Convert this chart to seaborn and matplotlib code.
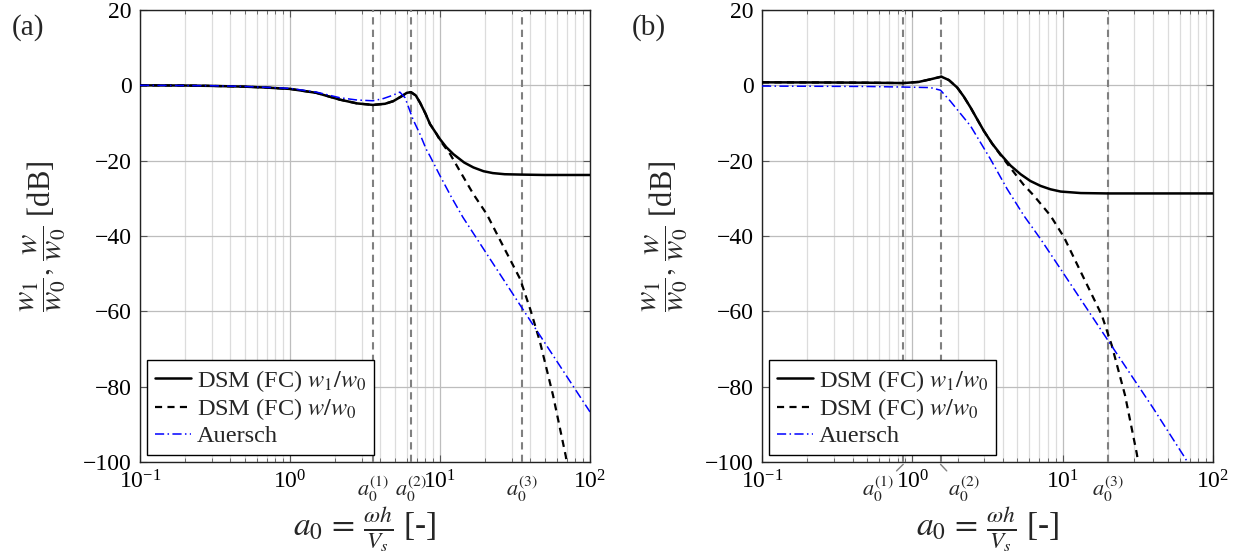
import numpy as np
import pandas as pd
import matplotlib
matplotlib.use("Agg")
import matplotlib.pyplot as plt
import matplotlib.transforms as mtransforms
from matplotlib.ticker import LogLocator, LogFormatterMathtext, NullFormatter
import seaborn as sns

# ---------------- data ----------------
# panel (a)
a_L_w1 = [0.1, 0.2, 0.3, 0.5, 0.7, 1.0, 1.5, 2.15, 2.8, 3.57, 4.3, 4.88, 5.6, 6.0, 6.4, 6.9, 7.36, 8.0, 8.58,
          10, 11.0, 12.3, 14.5, 16.7, 19.5, 22.5, 27, 35, 50, 100]
db_L_w1 = [0, -0.05, -0.15, -0.35, -0.6, -0.95, -2.0, -3.8, -4.8, -5.2, -4.9, -4.2, -2.8, -2.0, -1.8, -2.7, -4.6, -7.5, -10.3,
           -14.3, -16.4, -18.3, -20.5, -21.8, -22.8, -23.3, -23.6, -23.7, -23.8, -23.8]

a_L_w = [0.1, 0.2, 0.3, 0.5, 0.7, 1.0, 1.5, 2.15, 2.8, 3.57, 4.3, 4.88, 5.6, 6.0, 6.4, 6.9, 7.36, 8.0, 8.58,
         9.3, 10.0, 11.7, 13.5, 16.7, 20.5, 25, 30, 34.2, 40, 46.4, 51, 56.7, 63, 69, 72]
db_L_w = [0, -0.05, -0.15, -0.35, -0.6, -0.95, -2.0, -3.8, -4.8, -5.2, -4.9, -4.2, -2.8, -2.0, -1.8, -2.7, -4.6, -7.5, -10.3,
          -12.3, -14.6, -18.3, -22.6, -28.9, -34.2, -40.9, -47.0, -51.4, -59.5, -68.1, -74.8, -82.3, -91.0, -98.5, -104]

a_L_au = [0.1, 0.3, 0.5, 1.0, 1.5, 2.15, 2.8, 3.57, 4.2, 4.64, 5.0, 5.4, 5.85, 6.6, 7.36, 8.1, 8.58,
          10, 11.96, 14.2, 20, 35.2, 60, 100]
db_L_au = [0, -0.1, -0.3, -0.8, -1.8, -3.3, -3.9, -4.1, -3.5, -2.9, -2.4, -1.8, -3.3, -9.0, -13.0, -17.0, -18.8,
           -24.0, -29.8, -35.0, -44.1, -59.1, -73.2, -86.7]

# panel (b)
a_R_w1 = [0.1, 0.3, 0.5, 0.87, 1.1, 1.32, 1.56, 1.75, 1.99, 2.2, 2.44, 2.7, 2.99, 3.4, 3.86, 4.5, 5.25, 6.1, 7.13,
          8.3, 9.7, 13.2, 20, 100]
db_R_w1 = [0.8, 0.75, 0.7, 0.6, 0.9, 1.6, 2.3, 1.4, -0.6, -3.0, -5.9, -9.0, -12.1, -15.5, -18.3, -21.3, -23.6, -25.4, -26.7,
           -27.6, -28.2, -28.6, -28.7, -28.7]

a_R_w = [0.1, 0.3, 0.5, 0.87, 1.1, 1.32, 1.56, 1.75, 1.99, 2.2, 2.44, 2.7, 2.99, 3.4, 3.86, 4.74, 5.5, 6.44, 8.3, 10.2,
         13, 18.2, 21.2, 26, 31.1, 33]
db_R_w = [0.8, 0.75, 0.7, 0.6, 0.9, 1.6, 2.3, 1.4, -0.6, -3.0, -5.9, -9.0, -12.1, -15.5, -18.5, -23.1, -26.4, -29.3, -34.6, -40.3,
          -49.0, -61.0, -69.0, -82.3, -97.7, -104]

a_R_au = [0.1, 0.5, 1.0, 1.32, 1.54, 1.79, 2.09, 2.44, 3.31, 4.27, 5.52, 7.13, 10, 20, 40, 64.4, 70]
db_R_au = [-0.2, -0.3, -0.5, -0.6, -1.3, -4.2, -7.5, -10.8, -19.6, -27.5, -34.6, -40.8, -49.6, -67.7, -85.7, -98.6, -101]

# characteristic frequencies (vertical markers)
a0_L = [3.57, 6.4, 35.2]
a0_R = [0.87, 1.54, 20.0]
a0_names = [r"$a_0^{(1)}$", r"$a_0^{(2)}$", r"$a_0^{(3)}$"]

legend_labels = [r"DSM (FC) $w_1/w_0$", r"DSM (FC) $w/w_0$", "Auersch"]
panel_labels = ["(a)", "(b)"]
xlabel = r"$a_0\,=\,\frac{\omega h}{V_s}$ [-]"
ylabel = r"$\dfrac{w_1}{w_0},\,\dfrac{w}{w_0}$ [dB]"
yticks = [-100, -80, -60, -40, -20, 0, 20]

# ---------------- style ----------------
sns.set_theme(style="ticks")
plt.rcParams["font.family"] = ["Liberation Serif", "DejaVu Serif"]
plt.rcParams["mathtext.fontset"] = "stix"
plt.rcParams["axes.unicode_minus"] = True

W, H = 1244, 556
fig = plt.figure(figsize=(W / 100, H / 100), dpi=100)
axL = fig.add_axes([140 / W, 1 - 462 / H, 450 / W, 452 / H])
axR = fig.add_axes([762 / W, 1 - 462 / H, 451 / W, 452 / H])


def draw(ax, curves, a0s, label_pos):
    cols = ["black", "black", "#0000ff"]
    lws = [1.8, 1.6, 1.1]
    dashes = [None, (3.2, 2.4), (6, 2.2, 1, 2.2)]
    for (x, y), c, lw, d, lab in zip(curves, cols, lws, dashes, legend_labels):
        df = pd.DataFrame({"a0": x, "dB": y})
        sns.lineplot(data=df, x="a0", y="dB", ax=ax, color=c, lw=lw, label=lab,
                     estimator=None, sort=False, zorder=5)
        if d is not None:
            ax.lines[-1].set_dashes(d)
    ax.set_xscale("log")
    ax.set_xlim(0.1, 100)
    ax.set_ylim(-100, 20)
    ax.set_yticks(yticks)
    ax.xaxis.set_major_locator(LogLocator(base=10, numticks=10))
    ax.xaxis.set_major_formatter(LogFormatterMathtext())
    ax.xaxis.set_minor_locator(LogLocator(base=10, subs=np.arange(2, 10), numticks=20))
    ax.xaxis.set_minor_formatter(NullFormatter())
    ax.grid(True, which="major", color="#bdbdbd", lw=0.9)
    ax.grid(True, which="minor", axis="x", color="#dcdcdc", lw=0.9)
    ax.set_axisbelow(True)
    ax.tick_params(which="both", direction="in", top=True, right=True, labelsize=17, colors="black")
    ax.tick_params(which="major", length=5, width=0.8, pad=6, color="#555555")
    ax.tick_params(which="minor", length=3, width=0.6, color="#555555")
    for s in ax.spines.values():
        s.set_color("#222222")
        s.set_linewidth(1.0)
    for v in a0s:
        ax.axvline(v, color="#808080", lw=1.5, dashes=(3.5, 2.5), zorder=3)
    trans = mtransforms.blended_transform_factory(ax.transData, ax.transAxes)
    for v, name, (tx, conn) in zip(a0s, a0_names, label_pos):
        if conn:
            ax.annotate(name, xy=(v, -0.005), xycoords=trans, xytext=(tx, -0.06), textcoords=trans,
                        ha="center", va="center", fontsize=16,
                        arrowprops=dict(arrowstyle="-", color="#808080", lw=1.0, shrinkA=14, shrinkB=0))
        else:
            ax.text(tx, -0.06, name, transform=trans, ha="center", va="center", fontsize=16)
    ax.set_xlabel(xlabel, fontsize=24)
    ax.xaxis.set_label_coords(0.5, -0.093)
    ax.set_ylabel(ylabel, fontsize=22)
    ax.yaxis.set_label_coords(-0.16, 0.5)
    leg = ax.legend(loc="lower left", fontsize=17.5, frameon=True, fancybox=False, framealpha=1,
                    edgecolor="black", borderaxespad=0.3, handlelength=1.5, handletextpad=0.25,
                    labelspacing=0.12, borderpad=0.3)
    leg.get_frame().set_linewidth(1.0)
    leg.set_zorder(10)


draw(axL, [(a_L_w1, db_L_w1), (a_L_w, db_L_w), (a_L_au, db_L_au)], a0_L,
     [(a0_L[0], False), (a0_L[1], False), (a0_L[2], False)])
draw(axR, [(a_R_w1, db_R_w1), (a_R_w, db_R_w), (a_R_au, db_R_au)], a0_R,
     [(0.593, True), (2.2, True), (a0_R[2], False)])

fig.text(28 / W, 1 - 28 / H, panel_labels[0], fontsize=21, ha="center", va="center")
fig.text(649 / W, 1 - 28 / H, panel_labels[1], fontsize=21, ha="center", va="center")

fig.savefig("out.png", dpi=100)
